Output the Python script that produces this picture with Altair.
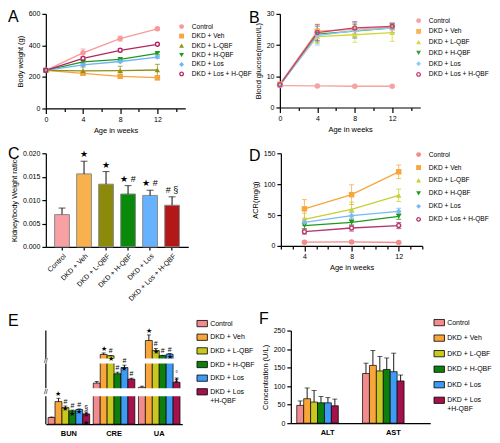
import altair as alt
import pandas as pd

FONT = "Liberation Sans"

groups = ["Control", "DKD + Veh", "DKD + L-QBF", "DKD + H-QBF", "DKD + Los", "DKD + Los + H-QBF"]

# ---------- Panel A: body weight ----------
weeks_a = [0, 4, 8, 12]
bw_control = [242, 353, 443, 505]
bw_control_sd = [6, 24, 16, 8]
bw_veh = [242, 223, 204, 195]
bw_veh_sd = [6, 12, 10, 14]
bw_lqbf = [242, 238, 240, 244]
bw_lqbf_sd = [6, 25, 28, 36]
bw_hqbf = [242, 296, 311, 349]
bw_hqbf_sd = [6, 8, 8, 8]
bw_los = [242, 276, 298, 326]
bw_los_sd = [6, 8, 8, 8]
bw_losh = [242, 317, 369, 407]
bw_losh_sd = [6, 10, 10, 8]

# ---------- Panel B: blood glucose ----------
glu_control = [7.0, 6.9, 6.8, 6.8]
glu_control_sd = [0.3, 0.3, 0.3, 0.3]
glu_veh = [7.5, 24.5, 25.0, 25.8]
glu_veh_sd = [0.5, 2.2, 2.2, 1.2]
glu_lqbf = [7.3, 22.7, 23.3, 24.0]
glu_lqbf_sd = [0.5, 2.2, 2.4, 2.8]
glu_hqbf = [7.1, 23.5, 24.5, 25.5]
glu_hqbf_sd = [0.5, 2.5, 2.2, 1.5]
glu_los = [7.2, 23.0, 24.6, 25.4]
glu_los_sd = [0.5, 3.0, 2.5, 1.5]
glu_losh = [7.3, 24.0, 25.5, 26.0]
glu_losh_sd = [0.5, 2.5, 2.0, 1.0]

# ---------- Panel C: kidney / body weight ----------
kr_mean = [0.0069, 0.0156, 0.0134, 0.0113, 0.0110, 0.0089]
kr_sd = [0.0014, 0.0027, 0.0027, 0.0018, 0.0011, 0.0018]
kr_sig = ["", "★", "★", "★ #", "★ #", "# §"]

# ---------- Panel D: ACR ----------
weeks_d = [4, 8, 12]
acr_control = [6.0, 6.5, 5.5]
acr_control_sd = [1, 1, 1]
acr_veh = [60, 83, 120]
acr_veh_sd = [15, 16, 11]
acr_lqbf = [43, 59, 82]
acr_lqbf_sd = [10, 12, 10]
acr_hqbf = [33, 38, 48]
acr_hqbf_sd = [5, 5, 5]
acr_los = [38, 49, 56]
acr_los_sd = [5, 5, 5]
acr_losh = [23, 29, 33]
acr_losh_sd = [4, 5, 5]

# ---------- Panel E: renal function ----------
cats_e = ["BUN", "CRE", "UA"]
bun_mean = [5.0, 17.0, 12.5, 10.0, 11.0, 7.7]
bun_sd = [0.4, 2.5, 1.2, 0.6, 0.5, 1.5]
bun_sig = ["", "★", "#\n★", "#\n★", "#\n★", "§\n#\n★"]
cre_mean = [68, 600, 470, 116, 148, 88]
cre_sd = [8, 150, 40, 8, 12, 5]
cre_sig = ["", "★", "#\n★", "#", "#\n★", "#"]
ua_mean = [46, 2000, 1000, 480, 630, 72]
ua_sd = [6, 560, 200, 40, 60, 22]
ua_sig = ["", "★", "#\n★", "#", "#\n★", "°\n#"]

# ---------- Panel F: liver function ----------
cats_f = ["ALT", "AST"]
alt_mean = [48, 66, 57, 55, 55, 47]
alt_sd = [12, 29, 31, 17, 14, 18]
ast_mean = [134, 156, 141, 145, 139, 114]
ast_sd = [28, 40, 39, 31, 50, 16]

colors_a = ["#f79a9a", "#f7a540", "#8f8f1a", "#1f9a1f", "#6fb4f5", "#b4245f"]
colors_b = ["#f5a3a3", "#fbb35a", "#d6d63c", "#3a9e3a", "#8cc8ff", "#c43d78"]
colors_d = ["#f28b8b", "#f9a53d", "#c8cf2e", "#1e9a1e", "#78b9f5", "#b8336e"]
colors_c = ["#f9a0a4", "#f9b14e", "#8c8a0a", "#0a8a0a", "#66b2ff", "#b31818"]
colors_ef = ["#f28b8e", "#f8a53c", "#c8c81e", "#0e7f0e", "#3d9bf5", "#a3124a"]

IND = dict(color="independent", fill="independent", stroke="independent", shape="independent")
RING = "M0,-1A1,1,0,1,1,0,1A1,1,0,1,1,0,-1ZM0,-0.45A0.45,0.45,0,1,0,0,0.45A0.45,0.45,0,1,0,0,-0.45Z"


def long_df(xs, means, sds):
    rows = []
    for g, m, s in zip(groups, means, sds):
        for x, v, e in zip(xs, m, s):
            rows.append({"g": g, "x": x, "v": v, "lo": v - e, "hi": v + e})
    return pd.DataFrame(rows)


def letter_layer(ch, x, y):
    return alt.Chart(pd.DataFrame({"t": [ch]})).mark_text(
        font=FONT, fontSize=16, align="left", baseline="top", color="black"
    ).encode(text="t:N", x=alt.value(x), y=alt.value(y))


def line_panel(df, colors, width, height, xdom, xvals, ydom, yvals, ytitle,
               leg_x, leg_y, row_pad, letter, lx, ly):
    cs = alt.Scale(domain=groups, range=colors)
    ss = alt.Scale(domain=groups, range=["circle", "square", "triangle-up",
                                         "triangle-down", "diamond", RING])
    leg = alt.Legend(title=None, orient="none", legendX=leg_x, legendY=leg_y,
                     rowPadding=row_pad, labelOffset=7, padding=0, symbolSize=24,
                     symbolStrokeWidth=0, symbolOpacity=1, labelFontSize=6.6)
    xax = alt.Axis(values=xvals,
                   labelExpr="datum.value % 4 == 0 ? datum.label : ''",
                   tickSize={"condition": {"test": "datum.value % 4 == 0", "value": 5}, "value": 3},
                   title="Age in weeks")
    xs = alt.X("x:Q", scale=alt.Scale(domain=xdom, nice=False, zero=False), axis=xax)
    ys = alt.Scale(domain=ydom, nice=False)
    yax = alt.Axis(values=yvals, title=ytitle)
    col = alt.Color("g:N", scale=cs, legend=leg)
    base = alt.Chart(df)
    err = base.mark_rule(strokeWidth=1, opacity=0.75).encode(
        x=xs, y=alt.Y("lo:Q", scale=ys, axis=yax), y2="hi:Q", color=col)
    cap_hi = base.mark_tick(orient="horizontal", size=5, thickness=1, opacity=0.75).encode(
        x=xs, y=alt.Y("hi:Q", scale=ys, axis=yax), color=col)
    cap_lo = base.mark_tick(orient="horizontal", size=5, thickness=1, opacity=0.75).encode(
        x=xs, y=alt.Y("lo:Q", scale=ys, axis=yax), color=col)
    line = base.mark_line(strokeWidth=1.3).encode(
        x=xs, y=alt.Y("v:Q", scale=ys, axis=yax), color=col)
    hollow = base.transform_filter(alt.datum.g == groups[5]).mark_point(
        filled=True, color="white", size=26, opacity=1, shape="circle").encode(
        x=xs, y=alt.Y("v:Q", scale=ys, axis=yax))
    pts = base.mark_point(filled=True, opacity=1, size=30).encode(
        x=xs, y=alt.Y("v:Q", scale=ys, axis=yax),
        shape=alt.Shape("g:N", scale=ss, legend=leg),
        color=col)
    return alt.layer(err, cap_hi, cap_lo, line, hollow, pts,
                     letter_layer(letter, lx, ly)).properties(width=width, height=height)


# ---------- A ----------
df_a = long_df(weeks_a, [bw_control, bw_veh, bw_lqbf, bw_hqbf, bw_los, bw_losh],
               [bw_control_sd, bw_veh_sd, bw_lqbf_sd, bw_hqbf_sd, bw_los_sd, bw_losh_sd])
chart_a = line_panel(df_a, colors_a, 140, 95, [0, 15], list(range(0, 15, 2)),
                     [0, 600], [0, 200, 400, 600], "Body weight (g)",
                     133, 9.5, 2.5, "A", -38, -5)

# ---------- B ----------
df_b = long_df(weeks_a, [glu_control, glu_veh, glu_lqbf, glu_hqbf, glu_los, glu_losh],
               [glu_control_sd, glu_veh_sd, glu_lqbf_sd, glu_hqbf_sd, glu_los_sd, glu_losh_sd])
chart_b = line_panel(df_b, colors_b, 141, 94, [0, 15], list(range(0, 15, 2)),
                     [0, 30], [0, 10, 20, 30], "Blood glucose(mmol/L)",
                     136, 3.5, 3.8, "B", -31, -4)

# ---------- C ----------
df_c = pd.DataFrame({"g": groups, "v": kr_mean,
                     "hi": [m + s for m, s in zip(kr_mean, kr_sd)], "sig": kr_sig})
xc = alt.X("g:N", sort=groups, scale=alt.Scale(paddingInner=0.33, paddingOuter=0.4),
           axis=alt.Axis(labelAngle=315, title=None, tickSize=3, labelFontSize=7))
ysc = alt.Scale(domain=[0, 0.02], nice=False)
yac = alt.Axis(values=[0, 0.005, 0.01, 0.015, 0.02], format=".3f", title="Kidney/body Weight ratio")
base_c = alt.Chart(df_c)
bars_c = base_c.mark_bar(stroke="#8a8a8a", strokeWidth=1).encode(
    x=xc, y=alt.Y("v:Q", scale=ysc, axis=yac),
    color=alt.Color("g:N", scale=alt.Scale(domain=groups, range=colors_c), legend=None))
err_c = base_c.mark_rule(color="#222", strokeWidth=1.1).encode(
    x=xc, y=alt.Y("v:Q", scale=ysc, axis=yac), y2="hi:Q")
cap_c = base_c.mark_tick(orient="horizontal", size=7, thickness=1.1, color="#222").encode(
    x=xc, y=alt.Y("hi:Q", scale=ysc, axis=yac))
sig_c = base_c.mark_text(baseline="bottom", dy=-2, fontSize=9, color="black").encode(
    x=xc, y=alt.Y("hi:Q", scale=ysc, axis=yac), text="sig:N")
chart_c = alt.layer(bars_c, err_c, cap_c, sig_c, letter_layer("C", -38, -7)).properties(
    width=143, height=94)

# ---------- D ----------
df_d = long_df(weeks_d, [acr_control, acr_veh, acr_lqbf, acr_hqbf, acr_los, acr_losh],
               [acr_control_sd, acr_veh_sd, acr_lqbf_sd, acr_hqbf_sd, acr_los_sd, acr_losh_sd])
chart_d = line_panel(df_d, colors_d, 142, 93, [2, 14], list(range(2, 15)),
                     [0, 150], [0, 50, 100, 150], "ACR(mg/g)",
                     135, -2, 6, "D", -32, -5)


def bar_df(cats, means, sds, sigs):
    rows = []
    for c, m, s, sg in zip(cats, means, sds, sigs):
        for g, v, e, t in zip(groups, m, s, sg):
            rows.append({"cat": c, "g": g, "v": v, "hi": v + e, "sig": t})
    return pd.DataFrame(rows)


rect_symbol = "M-1,-0.6H1V0.6H-1Z"
multi_label = "datum.label == 'DKD + Los + H-QBF' ? ['DKD + Los', '+H-QBF'] : datum.label"

# ---------- E ----------
df_e = bar_df(cats_e, [bun_mean, cre_mean, ua_mean], [bun_sd, cre_sd, ua_sd],
              [bun_sig, cre_sig, ua_sig])
leg_e = alt.Legend(title=None, orient="none", legendX=151, legendY=-13, rowPadding=2.7,
                   padding=0, symbolType=rect_symbol, symbolSize=110,
                   symbolStrokeColor="black", symbolStrokeWidth=0.8, labelOffset=2,
                   labelExpr=multi_label, labelFontSize=7)
xe = alt.X("cat:N", sort=cats_e, scale=alt.Scale(paddingInner=0.08, paddingOuter=0.05),
           axis=alt.Axis(title=None, ticks=False, labelFontWeight="bold", labelFontSize=7.5,
                         labelPadding=5, labelAngle=0))
xoe = alt.XOffset("g:N", sort=groups, scale=alt.Scale(domain=groups))
yse = alt.Scale(domain=[0, 21, 41, 169, 200, 3000], range=[94, 66, 58, 33, 28, 0])
yae = alt.Axis(values=[0, 10, 20, 75, 150, 3000], title="Concentration (mmol/L)", domain=False)
base_e = alt.Chart(df_e)
bars_e = base_e.mark_bar(stroke="black", strokeWidth=0.7).encode(
    x=xe, xOffset=xoe, y=alt.Y("v:Q", scale=yse, axis=yae),
    fill=alt.Fill("g:N", scale=alt.Scale(domain=groups, range=colors_ef), legend=leg_e))
err_e = base_e.mark_rule(color="black", strokeWidth=0.9).encode(
    x=xe, xOffset=xoe, y=alt.Y("v:Q", scale=yse, axis=yae), y2="hi:Q")
cap_e = base_e.mark_tick(orient="horizontal", size=4, thickness=0.9, color="black").encode(
    x=xe, xOffset=xoe, y=alt.Y("hi:Q", scale=yse, axis=yae))
sig_e = base_e.mark_text(baseline="bottom", dy=-1, fontSize=7, lineHeight=7.5,
                         lineBreak="\n", color="black").encode(
    x=xe, xOffset=xoe, y=alt.Y("hi:Q", scale=yse, axis=yae), text="sig:N")
gap_lo = [21, 169]
gap_hi = [41, 200]
gaps_e = alt.Chart(pd.DataFrame({"lo": gap_lo, "hi": gap_hi})).mark_rect(color="white").encode(
    y=alt.Y("lo:Q", scale=yse, axis=None), y2="hi:Q")
seg_lo = [0, 41, 200]
seg_hi = [21, 169, 3000]
axis_e = alt.Chart(pd.DataFrame({"lo": seg_lo, "hi": seg_hi})).mark_rule(
    color="black", strokeWidth=1.2).encode(
    x=alt.value(0), y=alt.Y("lo:Q", scale=yse, axis=None), y2="hi:Q")
brk_at = [31, 184.5]
brk_e = alt.Chart(pd.DataFrame({"b": brk_at})).mark_text(
    text="//", fontSize=7, color="black", baseline="middle").encode(
    x=alt.value(0), y=alt.Y("b:Q", scale=yse, axis=None))
chart_e = alt.layer(bars_e, err_e, cap_e, gaps_e, axis_e, brk_e, sig_e,
                    letter_layer("E", -38, -18)).properties(width=137, height=94)

# ---------- F ----------
df_f = bar_df(cats_f, [alt_mean, ast_mean], [alt_sd, ast_sd],
              [[""] * 6, [""] * 6])
leg_f = alt.Legend(title=None, orient="none", legendX=143, legendY=-14, rowPadding=4.6,
                   padding=0, symbolType=rect_symbol, symbolSize=110,
                   symbolStrokeColor="black", symbolStrokeWidth=0.8, labelOffset=2,
                   labelExpr=multi_label, labelFontSize=7)
xf = alt.X("cat:N", sort=cats_f, scale=alt.Scale(paddingInner=0.06, paddingOuter=0.09),
           axis=alt.Axis(title=None, ticks=False, labelFontWeight="bold", labelFontSize=7.5,
                         labelPadding=5, labelAngle=0))
xof = alt.XOffset("g:N", sort=groups, scale=alt.Scale(domain=groups))
ysf = alt.Scale(domain=[0, 250], nice=False)
yaf = alt.Axis(values=[0, 50, 100, 150, 200, 250], title="Concentration (U/L)")
base_f = alt.Chart(df_f)
bars_f = base_f.mark_bar(stroke="black", strokeWidth=0.7).encode(
    x=xf, xOffset=xof, y=alt.Y("v:Q", scale=ysf, axis=yaf),
    fill=alt.Fill("g:N", scale=alt.Scale(domain=groups, range=colors_ef), legend=leg_f))
err_f = base_f.mark_rule(color="black", strokeWidth=0.9).encode(
    x=xf, xOffset=xof, y=alt.Y("v:Q", scale=ysf, axis=yaf), y2="hi:Q")
cap_f = base_f.mark_tick(orient="horizontal", size=5, thickness=0.9, color="black").encode(
    x=xf, xOffset=xof, y=alt.Y("hi:Q", scale=ysf, axis=yaf))
chart_f = alt.layer(bars_f, err_f, cap_f, letter_layer("F", -32, -20)).properties(
    width=140, height=93)

row1 = alt.hconcat(chart_a, chart_b, spacing=95, bounds="flush").resolve_scale(**IND)
row2 = alt.hconcat(chart_c, chart_d, spacing=93, bounds="flush").resolve_scale(**IND)
row3 = alt.hconcat(chart_e, chart_f, spacing=109, bounds="flush").resolve_scale(**IND)
lower = alt.vconcat(row2, row3, spacing=8).resolve_scale(**IND)

chart = alt.vconcat(row1, lower, spacing=12).resolve_scale(**IND).properties(
    padding=0, background="white"
).configure_view(stroke=None).configure_axis(
    labelFont=FONT, titleFont=FONT, labelFontSize=7, titleFontSize=7.5,
    titleFontWeight="normal", labelColor="black", titleColor="black",
    domainColor="black", tickColor="black", domainWidth=1.2, tickWidth=1.2,
    tickSize=4, labelPadding=2, titlePadding=4, grid=False, labelFlush=False
).configure_legend(
    labelFont=FONT, labelFontSize=7, labelColor="black"
).configure_text(font=FONT)

chart.save("out.html", embed_options={"renderer": "svg", "actions": False})
